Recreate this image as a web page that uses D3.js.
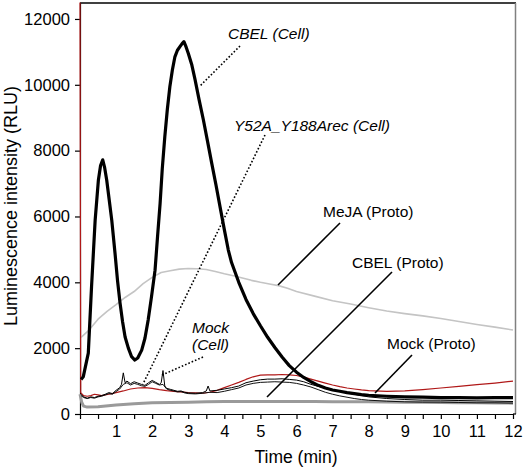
<!DOCTYPE html>
<html>
<head>
<meta charset="utf-8">
<script src="https://cdn.jsdelivr.net/npm/d3@7"></script>
<style>
  html, body { margin: 0; padding: 0; background: #fff; }
  svg { display: block; font-family: "Liberation Sans", Arial, sans-serif; }
</style>
</head>
<body>
<svg id="chart" width="525" height="468"></svg>
<script>
// ---- Data (time in min, luminescence in RLU) ----
const cbelCellTime = [0.03,0.09,0.23,0.32,0.42,0.51,0.57,0.63,0.68,0.74,0.81,0.88,0.97,1.04,1.11,1.18,1.25,1.34,1.43,1.52,1.6,1.71,1.8,1.89,1.98,2.08,2.15,2.22,2.28,2.35,2.42,2.49,2.56,2.63,2.7,2.77,2.83,2.88,2.94,3.0,3.1,3.19,3.3,3.42,3.54,3.65,3.77,3.88,4.0,4.11,4.2,4.4,4.6,4.8,5.0,5.2,5.4,5.6,5.8,6.0,6.2,6.4,6.6,6.8,7.0,7.2,7.4,7.6,7.8,8.0,8.5,9.0,9.5,10.0,10.5,11.0,11.5,12.0];
const cbelCellLum  = [1050,1130,1850,3870,5890,7110,7550,7720,7500,7110,6500,5890,4890,4050,3370,2800,2340,2000,1740,1640,1700,1940,2300,2860,3550,4370,5400,6400,7450,8420,9250,9940,10450,10850,11050,11160,11250,11310,11150,10960,10600,10150,9550,8930,8250,7620,6950,6300,5600,4980,4600,4000,3480,3050,2680,2330,2020,1730,1470,1270,1110,980,870,790,730,690,650,620,590,570,540,520,510,500,500,490,500,500];

const y52aTime = [0.03,0.1,0.2,0.3,0.4,0.5,0.6,0.7,0.8,0.9,1.0,1.1,1.15,1.2,1.25,1.3,1.4,1.5,1.6,1.7,1.8,1.9,2.0,2.1,2.2,2.25,2.3,2.35,2.4,2.5,2.6,2.7,2.8,2.9,3.0,3.2,3.4,3.5,3.55,3.6,3.8,4.0,4.2,4.4,4.6,4.8,5.0,5.2,5.4,5.6,5.8,6.0,6.2,6.4,6.6,6.8,7.0,7.2,7.4,7.6,7.8,8.0,8.5,9.0,9.5,10.0,10.5,11.0,11.5,12.0];
const y52aLum  = [600,520,480,520,500,540,560,600,650,620,720,800,900,1250,950,1000,920,980,940,900,870,950,1020,960,900,950,1320,850,780,750,720,690,700,660,640,630,650,700,850,700,720,760,800,850,950,1000,1040,1060,1060,1070,1050,1030,980,900,840,780,730,680,640,600,560,520,470,440,420,420,410,400,390,380];

const mockCellTime = [0.03,0.1,0.2,0.3,0.4,0.5,0.6,0.7,0.8,0.9,1.0,1.1,1.2,1.3,1.4,1.5,1.6,1.7,1.8,1.9,2.0,2.1,2.2,2.3,2.4,2.5,2.6,2.7,2.8,2.9,3.0,3.2,3.4,3.6,3.8,4.0,4.2,4.4,4.6,4.8,5.0,5.2,5.4,5.6,5.8,6.0,6.2,6.4,6.6,6.8,7.0,7.2,7.4,7.6,7.8,8.0,8.5,9.0,9.5,10.0,10.5,11.0,11.5,12.0];
const mockCellLum  = [560,500,470,500,480,520,540,580,620,600,680,760,900,950,880,930,900,860,840,900,980,930,880,900,760,720,700,670,680,640,620,610,630,660,650,690,740,790,880,930,960,970,980,970,960,930,880,820,740,660,600,550,510,470,440,420,390,370,360,360,350,340,340,330];

const cbelProtoTime = [0,0.02,0.1,0.2,0.3,0.4,0.5,0.6,0.8,1.0,1.2,1.4,1.6,1.8,2.0,2.2,2.4,2.6,2.8,3.0,3.2,3.4,3.6,3.8,4.0,4.2,4.4,4.6,4.8,5.0,5.2,5.4,5.6,5.8,6.0,6.2,6.4,6.6,6.8,7.0,7.2,7.4,7.6,7.8,8.0,8.5,9.0,9.5,10.0,10.5,11.0,11.5,12.0];
const cbelProtoLum  = [12500,650,560,540,560,600,580,560,600,650,700,760,790,800,780,740,710,690,670,650,640,630,660,720,800,880,960,1050,1130,1180,1190,1190,1200,1190,1170,1120,1060,1000,940,880,830,790,760,730,710,690,700,740,790,840,890,940,1000];

const mockProtoTime = [0,0.05,0.1,0.2,0.5,1.0,1.5,2.0,2.5,3.0,3.5,4.0,4.5,5.0,5.5,6.0,6.5,7.0,7.5,8.0,8.5,9.0,9.5,10.0,10.5,11.0,11.5,12.0];
const mockProtoLum  = [600,350,240,210,220,270,310,340,350,360,370,380,380,380,380,380,380,375,370,370,365,360,355,350,345,340,335,330];

const mejaProtoTime = [0.03,0.25,0.5,0.75,1.0,1.25,1.5,1.75,2.0,2.25,2.5,2.75,3.0,3.25,3.5,3.75,4.0,4.25,4.5,4.75,5.0,5.25,5.5,5.75,6.0,6.5,7.0,7.5,8.0,8.5,9.0,9.5,10.0,10.5,11.0,11.5,12.0];
const mejaProtoLum  = [2330,2550,2880,3120,3320,3540,3720,3960,4150,4300,4350,4400,4420,4410,4390,4330,4260,4200,4130,4060,4000,3950,3900,3820,3720,3580,3440,3340,3230,3130,3050,2980,2900,2810,2720,2640,2550];

const yTicks = [0,2000,4000,6000,8000,10000,12000];
const xTickLabels = ["1","2","3","4","5","6","7","8","9","10","11","12"];

// ---- Scales ----
const svg = d3.select("#chart");
const x = d3.scaleLinear().domain([0, 12]).range([80, 513]);
const y = d3.scaleLinear().domain([0, 12500]).range([414, 2.5]);

// ---- Axes ----
const yAxis = d3.axisLeft(y).tickValues(yTicks).tickSize(5).tickSizeOuter(0).tickPadding(5).tickFormat(d3.format("d"));
const gy = svg.append("g").attr("transform", "translate(80,0)").call(yAxis);
gy.selectAll("text").attr("font-size", "16.5px").attr("fill", "#000").attr("font-family", "Liberation Sans, Arial, sans-serif");
gy.select(".domain").attr("stroke", "#000").attr("stroke-width", 1.2);
gy.selectAll(".tick line").attr("stroke-width", 1.2);

const xAxis = d3.axisBottom(x).tickValues(d3.range(0, 12.01, 0.5)).tickSize(5).tickSizeOuter(0)
  .tickFormat(d => (Number.isInteger(d) && d > 0) ? xTickLabels[d - 1] : "");
const gx = svg.append("g").attr("transform", "translate(0,414)").call(xAxis);
gx.selectAll("text").attr("font-size", "16.5px").attr("fill", "#000").attr("y", 23).attr("dy", 0)
  .attr("font-family", "Liberation Sans, Arial, sans-serif");
gx.select(".domain").attr("stroke-width", 1.2);
gx.selectAll(".tick line").attr("stroke-width", 1.2);

// frame
svg.append("line").attr("x1", 80).attr("x2", 516).attr("y1", 3).attr("y2", 3).attr("stroke", "#000").attr("stroke-width", 1.5);
svg.append("line").attr("x1", 515.5).attr("x2", 515.5).attr("y1", 3).attr("y2", 414).attr("stroke", "#808080").attr("stroke-width", 1.5);
svg.append("line").attr("x1", 513).attr("x2", 516).attr("y1", 414).attr("y2", 414).attr("stroke", "#000").attr("stroke-width", 1.2);

// ---- Series ----
const line = d3.line().x(d => x(d[0])).y(d => y(d[1]));
function draw(times, vals, color, width) {
  svg.append("path").datum(d3.zip(times, vals))
    .attr("d", line).attr("fill", "none").attr("stroke", color)
    .attr("stroke-width", width).attr("stroke-linejoin", "round");
}
draw(mejaProtoTime, mejaProtoLum, "#c4c4c4", 1.6);
draw(mockProtoTime, mockProtoLum, "#9a9a9a", 3);
draw(cbelProtoTime, cbelProtoLum, "#b01818", 1.2);
draw(mockCellTime, mockCellLum, "#111", 1);
draw(y52aTime, y52aLum, "#000", 1);
draw(cbelCellTime, cbelCellLum, "#000", 3.2);

// ---- Annotations ----
function pointer(x1, y1, x2, y2, dotted) {
  const l = svg.append("line").attr("x1", x1).attr("y1", y1).attr("x2", x2).attr("y2", y2)
    .attr("stroke", "#000").attr("stroke-width", dotted ? 1.6 : 1.6);
  if (dotted) l.attr("stroke-dasharray", "1.6,2");
}
function label(txt, lx, ly, italic) {
  svg.append("text").attr("x", lx).attr("y", ly).attr("font-size", "15.5px")
    .attr("font-style", italic ? "italic" : "normal").attr("fill", "#000").text(txt);
}
label("CBEL (Cell)", 228, 39, true);
pointer(240, 46, 200, 86, true);
label("Y52A_Y188Arec (Cell)", 234, 131, true);
pointer(265, 135, 143, 384, true);
label("Mock", 192, 333, true);
label("(Cell)", 192, 350, true);
pointer(203, 357, 162, 375, true);
label("MeJA (Proto)", 323, 217, false);
pointer(340, 223, 278, 285, false);
label("CBEL (Proto)", 352, 268, false);
pointer(392, 272, 267, 397, false);
label("Mock (Proto)", 387, 349, false);
pointer(412, 355, 375, 393, false);

// ---- Axis titles ----
svg.append("text").attr("transform", "translate(17,206) rotate(-90)").attr("text-anchor", "middle")
  .attr("font-size", "18px").attr("fill", "#000").text("Luminescence intensity (RLU)");
svg.append("text").attr("x", 296).attr("y", 463).attr("text-anchor", "middle")
  .attr("font-size", "17.5px").attr("fill", "#000").text("Time (min)");
</script>
</body>
</html>
